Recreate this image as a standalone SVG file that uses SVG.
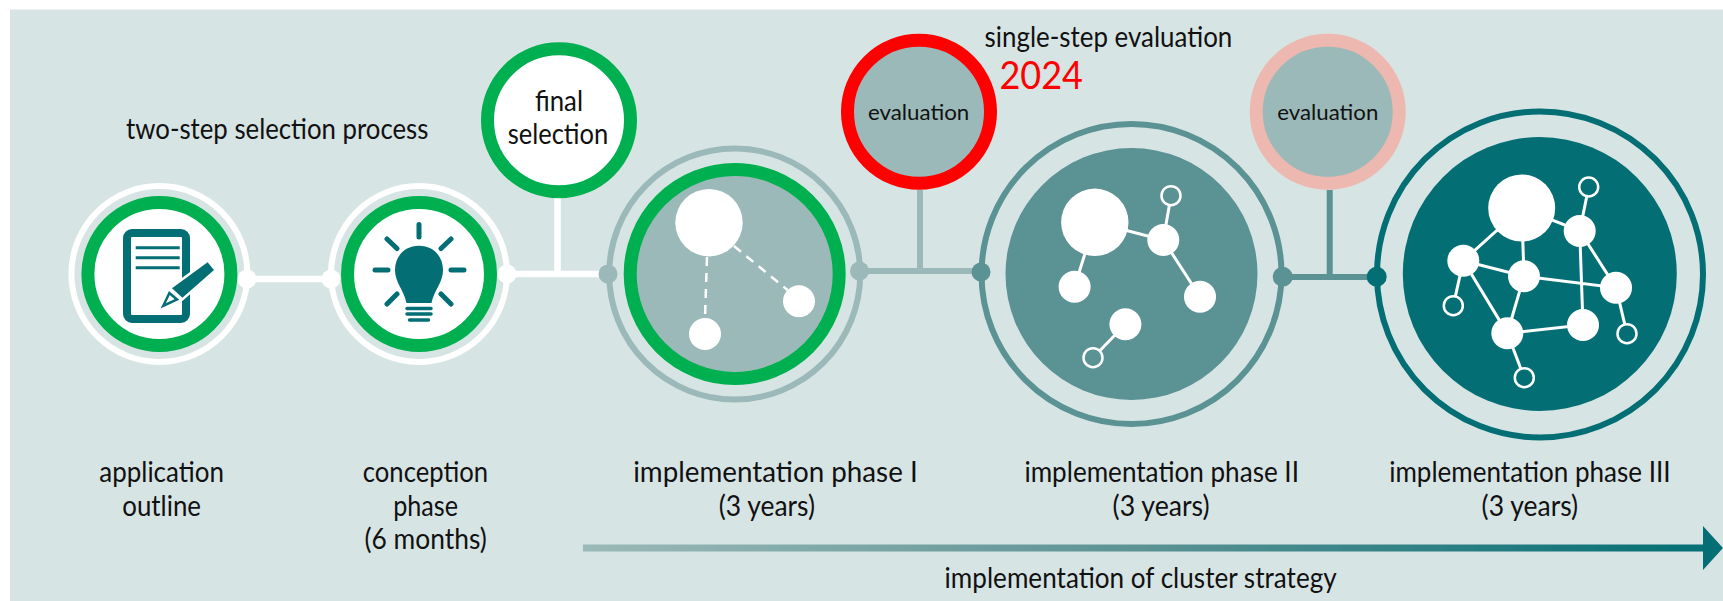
<svg xmlns="http://www.w3.org/2000/svg" width="1723" height="601" viewBox="0 0 1723 601">
<style>
text{font-family:"Lato","Open Sans","Liberation Sans",sans-serif;font-size:28px;fill:#111;text-anchor:start}
.sm{font-size:22px}
.ring{fill:none;stroke-width:6}
.green{stroke:#00b050;stroke-width:13}
.w{fill:#fff}
.e{stroke:#fff;stroke-width:3;fill:none}
.h{stroke:#fff;stroke-width:2.5}
.t{fill:#036f75}
.ts{stroke:#036f75;fill:none;stroke-linecap:round}
</style>
<defs>
<linearGradient id="arrowGrad" gradientUnits="userSpaceOnUse" x1="583" y1="0" x2="1705" y2="0">
<stop offset="0" stop-color="#9bb9b8"/><stop offset="0.5" stop-color="#5b9294"/><stop offset="1" stop-color="#036f75"/>
</linearGradient>
</defs>
<rect x="10" y="9.5" width="1713" height="592" fill="#d7e4e4"/>
<g id="connectors">
<g stroke="#fff" stroke-width="6.5" fill="none"><path d="M247 279H331"/><path d="M507 274H608M557.5 198V274"/></g>
<circle cx="247" cy="279" r="9.5" fill="#fff"/><circle cx="331" cy="279" r="9.5" fill="#fff"/><circle cx="507" cy="274" r="9.5" fill="#fff"/>
<circle cx="608" cy="274" r="9.5" fill="#9bb9b8"/>
<g stroke="#9bb9b8" stroke-width="6" fill="none"><path d="M859.5 271H981M920 190V271"/></g>
<circle cx="859.5" cy="271" r="9.5" fill="#9bb9b8"/><circle cx="981" cy="272" r="9.5" fill="#5b9294"/>
<g stroke="#5b9294" stroke-width="6" fill="none"><path d="M1283 277H1377M1329.7 190V277"/></g>
<circle cx="1282.7" cy="276.7" r="10" fill="#5b9294"/><circle cx="1376.7" cy="276.7" r="10" fill="#036f75"/>
<rect x="583" y="544.5" width="1122" height="7" fill="url(#arrowGrad)"/>
<polygon points="1703,526 1723,548 1703,570" fill="#036f75"/>
</g>
<g id="application">
<circle cx="159.4" cy="274" r="88" class="ring" stroke="#fff"/>
<circle cx="159.4" cy="274" r="71.5" fill="#fff" class="green"/>
<rect x="127" y="233" width="59" height="86" rx="5" fill="#fff" stroke="#036f75" stroke-width="8"/>
<path d="M135.7 247.7H179.7M135.7 257.7H179.7M135.7 267.7H179.7" stroke="#036f75" stroke-width="3" fill="none"/>
<polygon points="207.6,262.3 214,270 182.4,297.7 172,288.3" fill="#036f75" stroke="#fff" stroke-width="5"/>
<polygon points="207.6,262.3 214,270 182.4,297.7 172,288.3" fill="#036f75"/>
<polygon points="163.2,306 169.4,293 177,299.5" fill="#fff" stroke="#036f75" stroke-width="2.5"/>
</g>
<g id="conception">
<circle cx="419" cy="274" r="88" class="ring" stroke="#fff"/>
<circle cx="419" cy="274" r="71.5" fill="#fff" class="green"/>
<path class="t" d="M419 245.7C404 245.7 395 257 395 270C395 283 404 290 406.5 303H431.5C434 290 443 283 443 270C443 257 434 245.7 419 245.7Z"/>
<path class="ts" stroke-width="3.5" d="M407 308.5H431M407 314H431M409.5 320H428.5"/>
<path class="ts" stroke-width="5" d="M419 224.5V237M375 270H388M451 270H464M387 239L397 248.5M451 239L441 248.5M387 304L397 294M451 304L441 294"/>
</g>
<g id="final-selection">
<circle cx="559" cy="120.3" r="71.5" fill="#fff" class="green"/>
<text x="535" y="111" textLength="48" lengthAdjust="spacingAndGlyphs">final</text>
<text x="507.7" y="144" textLength="100.6" lengthAdjust="spacingAndGlyphs">selection</text>
</g>
<g id="phase-1">
<circle cx="734.7" cy="274" r="125.5" class="ring" stroke="#9bb9b8"/>
<circle cx="734.7" cy="274" r="104.5" fill="#9bb9b8" class="green"/>
<path d="M707 257L705 318M734 246L787.5 290" stroke="#fff" stroke-width="2.5" stroke-dasharray="9 7" fill="none"/>
<circle cx="709" cy="222.7" r="33.7" class="w"/><circle cx="799" cy="301.3" r="16" class="w"/><circle cx="705" cy="334" r="16" class="w"/>
</g>
<g id="evaluation-1">
<circle cx="919" cy="111.8" r="71.5" fill="#9bb9b8" stroke="#ff0000" stroke-width="13"/>
<text class="sm" x="867.9" y="120" textLength="101.4" lengthAdjust="spacingAndGlyphs">evaluation</text>
</g>
<g id="phase-2">
<circle cx="1131.5" cy="274" r="150" class="ring" stroke="#5b9294"/>
<circle cx="1131.5" cy="274" r="126" fill="#5b9294"/>
<path class="e" d="M1094.8 222.3L1163.3 240L1200 296.7M1094.8 222.3L1074.6 286.7M1163.3 240L1171 195.7M1125.4 324.3L1093 357.7"/>
<circle cx="1094.8" cy="222.3" r="33.7" class="w"/><circle cx="1163.3" cy="240" r="16" class="w"/><circle cx="1074.6" cy="286.7" r="16" class="w"/><circle cx="1200" cy="296.7" r="16" class="w"/><circle cx="1125.4" cy="324.3" r="16" class="w"/>
<circle cx="1171" cy="195.7" r="9.5" class="h" style="fill:#5b9294"/><circle cx="1093" cy="357.7" r="9.5" class="h" style="fill:#5b9294"/>
</g>
<g id="evaluation-2">
<circle cx="1327.7" cy="111.8" r="71.5" fill="#9bb9b8" stroke="#ecb8b0" stroke-width="13"/>
<text class="sm" x="1277.3" y="120" textLength="101" lengthAdjust="spacingAndGlyphs">evaluation</text>
</g>
<g id="phase-3">
<circle cx="1540" cy="274.5" r="163" class="ring" stroke="#036f75"/>
<circle cx="1539.8" cy="274" r="137" fill="#036f75"/>
<path class="e" d="M1521.7 208L1579.7 231L1588.7 187M1521.7 208L1463.3 260.7L1524 276.3L1616 287.7L1579.7 231L1583 325L1507.3 333.3L1463.3 260.7L1453.3 305.7M1521.7 208L1524 276.3L1507.3 333.3L1524.3 377.7M1616 287.7L1627 333.7"/>
<circle cx="1521.7" cy="208" r="33.5" class="w"/><circle cx="1579.7" cy="231" r="16" class="w"/><circle cx="1463.3" cy="260.7" r="16" class="w"/><circle cx="1524" cy="276.3" r="16" class="w"/><circle cx="1616" cy="287.7" r="16" class="w"/><circle cx="1507.3" cy="333.3" r="16" class="w"/><circle cx="1583" cy="325" r="16" class="w"/>
<circle cx="1588.7" cy="187" r="9.5" class="h" style="fill:#036f75"/><circle cx="1453.3" cy="305.7" r="9.5" class="h" style="fill:#036f75"/><circle cx="1627" cy="333.7" r="9.5" class="h" style="fill:#036f75"/><circle cx="1524.3" cy="377.7" r="9.5" class="h" style="fill:#036f75"/>
</g>
<g id="labels">
<text x="126" y="139.3" textLength="302.4" lengthAdjust="spacingAndGlyphs">two-step selection process</text>
<text x="984.6" y="46.7" textLength="247.7" lengthAdjust="spacingAndGlyphs">single-step evaluation</text>
<text x="999.5" y="89" textLength="83.5" lengthAdjust="spacingAndGlyphs" style="font-size:39px;fill:#ff0000">2024</text>
<text x="99.3" y="482.3" textLength="124.6" lengthAdjust="spacingAndGlyphs">application</text>
<text x="122.3" y="516" textLength="78.7" lengthAdjust="spacingAndGlyphs">outline</text>
<text x="362.8" y="482.3" textLength="125.2" lengthAdjust="spacingAndGlyphs">conception</text>
<text x="393.2" y="516" textLength="64.9" lengthAdjust="spacingAndGlyphs">phase</text>
<text x="364.5" y="549.3" textLength="122.3" lengthAdjust="spacingAndGlyphs">(6 months)</text>
<text x="633.2" y="482.3" textLength="284.5" lengthAdjust="spacingAndGlyphs">implementation phase I</text>
<text x="718.7" y="516" textLength="96.3" lengthAdjust="spacingAndGlyphs">(3 years)</text>
<text x="1024.4" y="482.3" textLength="274.6" lengthAdjust="spacingAndGlyphs">implementation phase II</text>
<text x="1112.6" y="516" textLength="97.1" lengthAdjust="spacingAndGlyphs">(3 years)</text>
<text x="1389.2" y="482.3" textLength="281.4" lengthAdjust="spacingAndGlyphs">implementation phase III</text>
<text x="1481.6" y="516" textLength="96.6" lengthAdjust="spacingAndGlyphs">(3 years)</text>
<text x="944.6" y="587.7" textLength="392.1" lengthAdjust="spacingAndGlyphs">implementation of cluster strategy</text>
</g>
</svg>
